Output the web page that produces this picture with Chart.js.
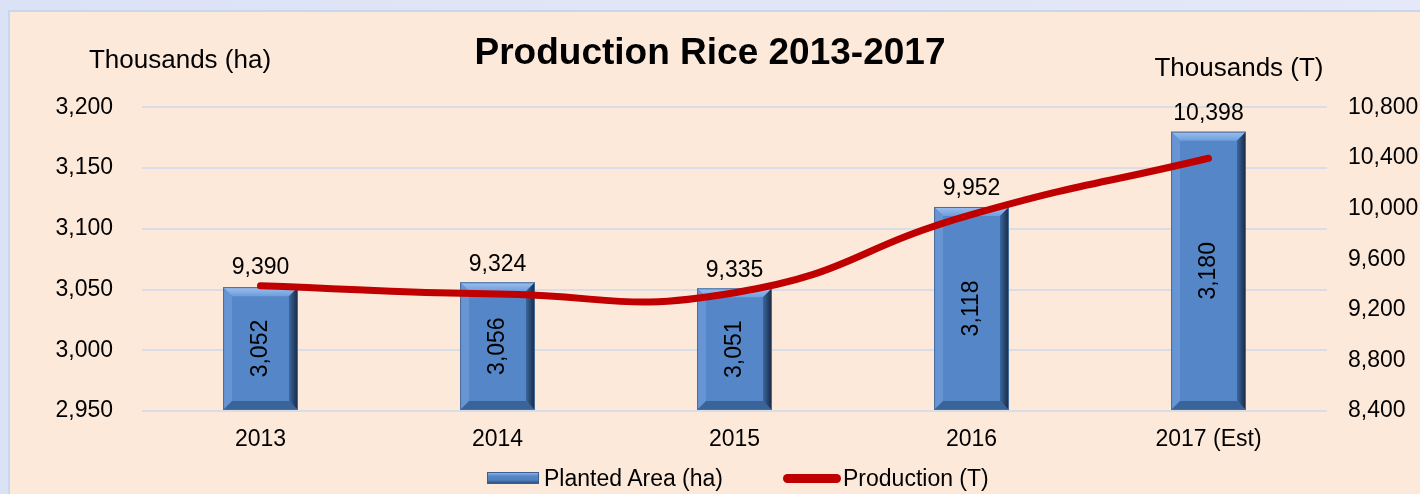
<!DOCTYPE html>
<html>
<head>
<meta charset="utf-8">
<title>Production Rice 2013-2017</title>
<script src="https://cdn.jsdelivr.net/npm/chart.js@4/dist/chart.umd.min.js"></script>
<style>
  html, body { margin: 0; padding: 0; }
  body { width: 1420px; height: 494px; overflow: hidden; position: relative;
         background: linear-gradient(90deg, #dce2f6 0%, #e4e8f8 100%);
         font-family: "Liberation Sans", Arial, sans-serif; }
  #panel { position: absolute; left: 8px; top: 10px; width: 1430px; height: 500px;
           background: #fde9da; border: 2px solid #c8d7f0; box-sizing: border-box; }
  #grafico { position: absolute; left: 0; top: 0; }
  #leyenda { position: absolute; left: 487px; top: 466px; height: 24px;
             display: flex; align-items: center; font-size: 23px; line-height: 24px; color: #000; }
  #leyenda .item { display: flex; align-items: center; }
  #leyenda .barra { width: 52px; height: 12px; box-sizing: border-box; margin-right: 5px;
                    border: 1px solid #3a5f8e;
                    background: linear-gradient(180deg, #8db3e6 0%, #5587c8 30%, #4f81bd 70%, #2f5285 100%); }
  #leyenda .linea { width: 58px; height: 9px; border-radius: 5px; margin-right: 2px; }
</style>
</head>
<body>
<div id="panel"></div>
<canvas id="grafico" width="1420" height="494"></canvas>
<div id="leyenda"></div>
<script>
// Datos del grafico
const anios = ['2013', '2014', '2015', '2016', '2017 (Est)'];
const areaPlantada = [3052, 3056, 3051, 3118, 3180];   // miles de ha
const produccion = [9390, 9324, 9335, 9952, 10398];    // miles de T
const ticksArea = [2950, 3200, 50];       // min, max, paso
const ticksProduccion = [8400, 10800, 400];

const fuente = '"Liberation Sans", Arial, sans-serif';
const formato = v => Number(v).toLocaleString('en-US');

// Bisel de las barras (estilo Excel)
const biselBarras = {
  id: 'biselBarras',
  afterDatasetDraw(chart, args) {
    if (args.index !== 0) return;
    const ctx = chart.ctx;
    args.meta.data.forEach(bar => {
      const {x, y, base, width} = bar.getProps(['x', 'y', 'base', 'width'], true);
      const izq = x - width / 2, der = x + width / 2;
      const b = 9;
      ctx.save();
      // arriba
      let g = ctx.createLinearGradient(0, y, 0, y + b);
      g.addColorStop(0, '#9cc0ee');
      g.addColorStop(1, '#6f9edd');
      ctx.fillStyle = g;
      ctx.beginPath();
      ctx.moveTo(izq, y); ctx.lineTo(der, y); ctx.lineTo(der - b, y + b); ctx.lineTo(izq + b, y + b);
      ctx.closePath(); ctx.fill();
      // izquierda
      ctx.fillStyle = '#6794d2';
      ctx.beginPath();
      ctx.moveTo(izq, y); ctx.lineTo(izq + b, y + b); ctx.lineTo(izq + b, base - b); ctx.lineTo(izq, base);
      ctx.closePath(); ctx.fill();
      // abajo
      ctx.fillStyle = '#3a6398';
      ctx.beginPath();
      ctx.moveTo(izq, base); ctx.lineTo(izq + b, base - b); ctx.lineTo(der - b, base - b); ctx.lineTo(der, base);
      ctx.closePath(); ctx.fill();
      // derecha
      g = ctx.createLinearGradient(der - b, 0, der, 0);
      g.addColorStop(0, '#3b679f');
      g.addColorStop(1, '#17273f');
      ctx.fillStyle = g;
      ctx.beginPath();
      ctx.moveTo(der, y); ctx.lineTo(der, base); ctx.lineTo(der - b, base - b); ctx.lineTo(der - b, y + b);
      ctx.closePath(); ctx.fill();
      ctx.strokeStyle = '#4a6d9a';
      ctx.lineWidth = 1;
      ctx.strokeRect(izq + 0.5, y + 0.5, width - 1, base - y - 1);
      ctx.restore();
    });
  }
};

// Etiquetas de valores y titulos de ejes
const etiquetas = {
  id: 'etiquetas',
  afterDatasetsDraw(chart) {
    const ctx = chart.ctx;
    const barras = chart.getDatasetMeta(0).data;
    const puntos = chart.getDatasetMeta(1).data;
    ctx.save();
    ctx.fillStyle = '#000';
    ctx.font = '23px ' + fuente;
    ctx.textAlign = 'center';
    ctx.textBaseline = 'middle';
    // valores de area (verticales dentro de la barra)
    barras.forEach((bar, i) => {
      ctx.save();
      ctx.translate(bar.x, (bar.y + bar.base) / 2);
      ctx.rotate(-Math.PI / 2);
      ctx.fillText(formato(areaPlantada[i]), 0, 0);
      ctx.restore();
    });
    // valores de produccion (encima)
    puntos.forEach((p, i) => {
      const arriba = Math.min(p.y, barras[i].y) - 18;
      ctx.fillText(formato(produccion[i]), p.x, arriba);
    });
    // titulos de ejes
    ctx.font = '26px ' + fuente;
    ctx.fillText('Thousands (ha)', 180, 61);
    ctx.fillText('Thousands (T)', 1239, 69);
    ctx.restore();
  }
};

const ctxGrafico = document.getElementById('grafico').getContext('2d');

const grafico = new Chart(ctxGrafico, {
  data: {
    labels: anios,
    datasets: [{
      type: 'bar',
      label: 'Planted Area (ha)',
      data: areaPlantada,
      yAxisID: 'y',
      base: ticksArea[0],
      backgroundColor: '#5587c8',
      borderWidth: 0,
      categoryPercentage: 1,
      barPercentage: 0.316,
      order: 1
    }, {
      type: 'line',
      label: 'Production (T)',
      data: produccion,
      yAxisID: 'y1',
      borderColor: '#c00000',
      backgroundColor: '#c00000',
      borderWidth: 7,
      borderCapStyle: 'round',
      tension: 0.5,
      pointRadius: 0,
      order: 0
    }]
  },
  options: {
    responsive: false,
    animation: false,
    layout: { padding: 0 },
    scales: {
      x: {
        grid: { display: false, drawTicks: false },
        border: { display: false },
        ticks: { color: '#000', font: { family: fuente, size: 23 }, padding: 15, maxRotation: 0 },
        afterFit: scale => { scale.height = 83; }
      },
      y: {
        position: 'left',
        beginAtZero: false,
        min: ticksArea[0],
        max: ticksArea[1],
        ticks: { stepSize: ticksArea[2], color: '#000', font: { family: fuente, size: 23 }, padding: 29, callback: formato },
        grid: { color: '#d9dde6', lineWidth: 2, drawTicks: false },
        border: { display: false },
        afterFit: scale => { scale.width = 142; }
      },
      y1: {
        position: 'right',
        beginAtZero: false,
        min: ticksProduccion[0],
        max: ticksProduccion[1],
        ticks: { stepSize: ticksProduccion[2], color: '#000', font: { family: fuente, size: 23 }, padding: 21, callback: formato },
        grid: { display: false, drawTicks: false },
        border: { display: false },
        afterFit: scale => { scale.width = 93; }
      }
    },
    plugins: {
      title: {
        display: true,
        text: 'Production Rice 2013-2017',
        color: '#000',
        font: { family: fuente, size: 37, weight: 'bold' },
        padding: { top: 32, bottom: 31 }
      },
      legend: { display: false },
      tooltip: { enabled: false }
    }
  },
  plugins: [biselBarras, etiquetas]
});

// Leyenda en HTML a partir de los datasets
const leyenda = document.getElementById('leyenda');
grafico.data.datasets.forEach((ds, i) => {
  const item = document.createElement('div');
  item.className = 'item';
  if (i > 0) item.style.marginLeft = '60px';
  const icono = document.createElement('span');
  icono.className = ds.type === 'bar' ? 'barra' : 'linea';
  if (ds.type === 'line') icono.style.background = ds.borderColor;
  const texto = document.createElement('span');
  texto.textContent = ds.label;
  item.appendChild(icono);
  item.appendChild(texto);
  leyenda.appendChild(item);
});
</script>
</body>
</html>
